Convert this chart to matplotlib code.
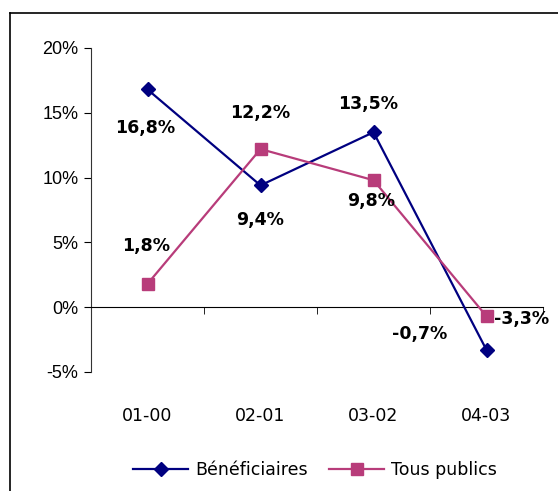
import matplotlib.pyplot as plt
from matplotlib.lines import Line2D

# Chart values
categories = ["01-00", "02-01", "03-02", "04-03"]
beneficiaires = [16.8, 9.4, 13.5, -3.3]
tous_publics = [1.8, 12.2, 9.8, -0.7]

# label offsets in points (dx, dy) as placed in the original
benef_offsets = [(-1.5, -28), (-0.5, -25), (-4, 20), (25, 22)]
tous_offsets = [(-1, 27), (-0.5, 26), (-2, -15), (-48, -13)]

blue = "#000080"
pink = "#B83C7A"

fig = plt.figure(figsize=(5.58, 4.91), dpi=100)
W, H = 558, 491
ax = fig.add_axes([91 / W, 1 - 372 / H, (543 - 91) / W, (372 - 48) / H])

x = range(len(categories))
ax.plot(x, beneficiaires, color=blue, lw=1.6, marker="D", ms=7.5,
        label="Bénéficiaires", zorder=3)
ax.plot(x, tous_publics, color=pink, lw=1.6, marker="s", ms=9,
        label="Tous publics", zorder=3)

lab_font = dict(fontsize=12.5, fontweight="bold", color="black",
                ha="center", va="center")
for i, v in enumerate(beneficiaires):
    ax.annotate(f"{v:.1f}%".replace(".", ","), (i, v), xytext=benef_offsets[i],
                textcoords="offset points", **lab_font)
for i, v in enumerate(tous_publics):
    ax.annotate(f"{v:.1f}%".replace(".", ","), (i, v), xytext=tous_offsets[i],
                textcoords="offset points", **lab_font)

ax.set_xlim(-0.5, 3.5)
ax.set_ylim(-5, 20)
ax.set_yticks([-5, 0, 5, 10, 15, 20])
ax.set_yticklabels([f"{t}%" for t in [-5, 0, 5, 10, 15, 20]],
                   family="Liberation Sans", fontsize=13)

ax.spines["top"].set_visible(False)
ax.spines["right"].set_visible(False)
ax.spines["bottom"].set_position(("data", 0))
ax.spines["left"].set_color("#333333")
ax.tick_params(axis="y", length=5, direction="out", pad=4)

ax.set_xticks(list(x))
ax.set_xticklabels(categories, fontsize=12.5)
ax.set_xticks([-0.5, 0.5, 1.5, 2.5, 3.5], minor=True)
ax.tick_params(axis="x", which="major", length=0, pad=72)
ax.tick_params(axis="x", which="minor", length=5, direction="out")

# outer chart frame (partly outside the image)
fig.add_artist(Line2D([10 / W, 10 / W], [0, 1 - 13 / H], color="black", lw=1.2))
fig.add_artist(Line2D([10 / W, 1], [1 - 13 / H, 1 - 13 / H], color="black", lw=1.2))

fig.legend(loc="center", bbox_to_anchor=(315 / W, 1 - 470 / H), ncol=2,
           frameon=False, fontsize=12.5, handlelength=3.2, columnspacing=1.2,
           handletextpad=0.4)

fig.savefig("out.png", dpi=100)
